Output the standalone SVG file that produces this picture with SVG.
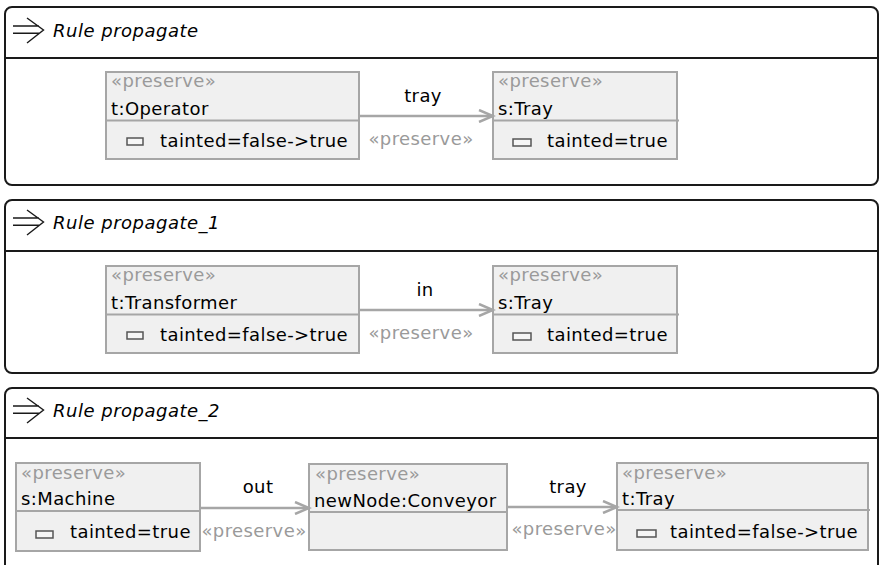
<svg xmlns="http://www.w3.org/2000/svg" width="879" height="565" viewBox="0 0 879 565">
<defs>
<style>
.frame{fill:none;stroke:#1a1a1a;stroke-width:2}
.hline{stroke:#1a1a1a;stroke-width:2}
.sym{fill:none;stroke:#1a1a1a;stroke-width:1.4}
.title{font-family:"DejaVu Sans",sans-serif;font-style:italic;font-size:18px;letter-spacing:0.5px;fill:#000}
.box{fill:#f0f0f0;stroke:#a6a6a6;stroke-width:2}
.div{stroke:#a6a6a6;stroke-width:2}
.st{font-family:"DejaVu Sans",sans-serif;font-size:18px;letter-spacing:0.4px;fill:#9a9a9a}
.nm{font-family:"DejaVu Sans",sans-serif;font-size:18px;letter-spacing:0.4px;fill:#000}
.icon{fill:#f6f6f6;stroke:#555;stroke-width:1.5}
.edge{fill:none;stroke:#a6a6a6;stroke-width:2.5}
.lbl{font-family:"DejaVu Sans",sans-serif;font-size:18px;letter-spacing:0.4px;fill:#000;text-anchor:middle}
.lst{font-family:"DejaVu Sans",sans-serif;font-size:18px;letter-spacing:0.4px;fill:#9a9a9a;text-anchor:middle}
</style>
<marker id="open" markerWidth="18" markerHeight="14" refX="15" refY="7" orient="auto" markerUnits="userSpaceOnUse">
<path d="M1 1 L15 7 L1 13" fill="none" stroke="#a6a6a6" stroke-width="2.5"/>
</marker>
<g id="rulesym"><path class="sym" d="M13 26 H39 M13 33.3 H39 M27 18 L43.5 30 L27 43"/></g>
</defs>

<g id="frames">
<g id="rule1">
<rect class="frame" x="5" y="7" width="873" height="178" rx="7"/>
<line class="hline" x1="5" y1="58" x2="878" y2="58"/>
<use href="#rulesym"/>
<text class="title" x="53" y="37">Rule propagate</text>
</g>
<g id="rule2">
<rect class="frame" x="5" y="200" width="873" height="173" rx="7"/>
<line class="hline" x1="5" y1="251" x2="878" y2="251"/>
<use href="#rulesym" transform="translate(0,192)"/>
<text class="title" x="53" y="229">Rule propagate_1</text>
</g>
<g id="rule3">
<rect class="frame" x="5" y="388" width="873" height="200" rx="7"/>
<line class="hline" x1="5" y1="438" x2="878" y2="438"/>
<use href="#rulesym" transform="translate(0,380)"/>
<text class="title" x="53" y="417">Rule propagate_2</text>
</g>
</g>

<g id="r1_operator">
<rect class="box" x="106" y="72" width="253" height="87"/>
<line class="div" x1="106" y1="120.5" x2="359" y2="120.5"/>
<text class="st" x="111" y="87">«preserve»</text>
<text class="nm" x="111" y="115">t:Operator</text>
<rect class="icon" x="127" y="138" width="16" height="7"/>
<text class="nm" x="160" y="147">tainted=false-&gt;true</text>
</g>
<g id="r1_tray">
<rect class="box" x="493" y="72" width="184" height="87"/>
<line class="div" x1="493" y1="120.5" x2="679" y2="120.5"/>
<text class="st" x="498" y="87">«preserve»</text>
<text class="nm" x="498" y="115">s:Tray</text>
<rect class="icon" x="513" y="139" width="18" height="7"/>
<text class="nm" x="547" y="147">tainted=true</text>
</g>

<g id="r2_transformer">
<rect class="box" x="106" y="266" width="253" height="87"/>
<line class="div" x1="106" y1="314.5" x2="359" y2="314.5"/>
<text class="st" x="111" y="281">«preserve»</text>
<text class="nm" x="111" y="309">t:Transformer</text>
<rect class="icon" x="127" y="332" width="16" height="7"/>
<text class="nm" x="160" y="341">tainted=false-&gt;true</text>
</g>
<g id="r2_tray">
<rect class="box" x="493" y="266" width="184" height="87"/>
<line class="div" x1="493" y1="314.5" x2="679" y2="314.5"/>
<text class="st" x="498" y="281">«preserve»</text>
<text class="nm" x="498" y="309">s:Tray</text>
<rect class="icon" x="513" y="333" width="18" height="7"/>
<text class="nm" x="547" y="341">tainted=true</text>
</g>

<g id="r3_machine">
<rect class="box" x="16" y="463" width="184" height="88"/>
<line class="div" x1="16" y1="511" x2="200" y2="511"/>
<text class="st" x="21" y="479">«preserve»</text>
<text class="nm" x="21" y="505">s:Machine</text>
<rect class="icon" x="36" y="531" width="17" height="7"/>
<text class="nm" x="70" y="538">tainted=true</text>
</g>
<g id="r3_conveyor">
<rect class="box" x="309" y="464" width="198" height="86"/>
<line class="div" x1="309" y1="512" x2="508" y2="512"/>
<text class="st" x="315" y="480">«preserve»</text>
<text class="nm" x="314" y="507">newNode:Conveyor</text>
</g>
<g id="r3_tray">
<rect class="box" x="617" y="463" width="251" height="87"/>
<line class="div" x1="617" y1="510" x2="870" y2="510"/>
<text class="st" x="622" y="479">«preserve»</text>
<text class="nm" x="622" y="505">t:Tray</text>
<rect class="icon" x="637" y="530" width="19" height="7"/>
<text class="nm" x="670" y="538">tainted=false-&gt;true</text>
</g>

<g id="connectors">
<g id="e1">
<line class="edge" x1="359" y1="116" x2="493" y2="116" marker-end="url(#open)"/>
<text class="lbl" x="423" y="102">tray</text>
<text class="lst" x="421" y="145">«preserve»</text>
</g>
<g id="e2">
<line class="edge" x1="359" y1="310" x2="493" y2="310" marker-end="url(#open)"/>
<text class="lbl" x="425" y="296">in</text>
<text class="lst" x="421" y="339">«preserve»</text>
</g>
<g id="e3">
<line class="edge" x1="200" y1="508" x2="309" y2="508" marker-end="url(#open)"/>
<text class="lbl" x="258" y="493">out</text>
<text class="lst" x="254" y="537">«preserve»</text>
</g>
<g id="e4">
<line class="edge" x1="507" y1="507" x2="617" y2="507" marker-end="url(#open)"/>
<text class="lbl" x="568" y="493">tray</text>
<text class="lst" x="564" y="535">«preserve»</text>
</g>
</g>
</svg>
